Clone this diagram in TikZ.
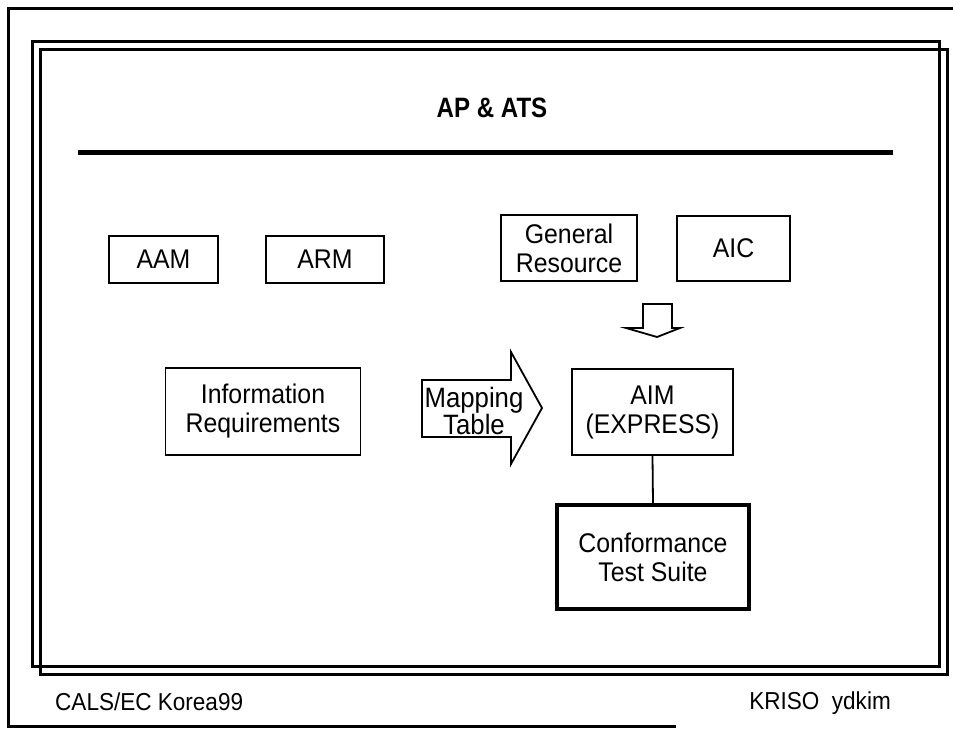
\documentclass[tikz,border=0pt]{standalone}
\usepackage{fontspec}
\setmainfont{Liberation Sans}[FakeStretch=0.92]
\newfontfamily\titlefont{Liberation Sans}[FakeStretch=0.86]
\begin{document}
\begin{tikzpicture}[x=1pt,y=-1pt,
  frameline/.style={line width=3pt},
  box/.style={draw, line width=1.8pt, inner sep=0pt, align=center,
              font=\fontsize{27}{29}\selectfont},
  thickbox/.style={box, line width=3.5pt},
  blockarrow/.style={draw, line width=1.8pt, line join=miter, fill=white},
  footer/.style={inner sep=0pt, font=\fontsize{24.5}{26}\selectfont}]

\useasboundingbox (0,0) rectangle (953,729);
\fill[white] (0,0) rectangle (953,729);

% page border (open on the right)
\draw[line width=2.5pt] (953,8.5) -- (8.5,8.5) -- (8.5,726.5) -- (676,726.5);

% double slide frame
\draw[frameline] (32,41) rectangle (939,666);
\draw[frameline] (40,49) rectangle (947,674);

% title and rule
\node[anchor=base, inner sep=0pt, font=\titlefont\fontsize{28}{30}\selectfont\bfseries] (title) at (492,117) {AP \& ATS};
\draw[line width=5pt] (78,152.5) -- (893,152.5);

% upper row of models
\node[box, minimum width=109pt, minimum height=47pt] (aam) at (163.5,259.5) {AAM};
\node[box, minimum width=118pt, minimum height=47pt] (arm) at (325,259.5) {ARM};
\node[box, minimum width=136pt, minimum height=66pt] (gr) at (569,248) {General\\Resource};
\node[box, minimum width=113pt, minimum height=65pt] (aic) at (733.5,248.5) {AIC};

% hollow down arrow under the resources
\draw[blockarrow] (643,304) -- (672,304) -- (672,328) -- (680,328) -- (657,337)
  -- (626,328) -- (643,328) -- cycle;

% middle row
\node[box, minimum width=195pt, minimum height=87pt] (ir) at (263,411.5) {Information\\Requirements};
\node[box, minimum width=161pt, minimum height=86pt] (aim) at (652.5,412) {AIM\\(EXPRESS)};

% mapping arrow with its label
\draw[blockarrow] (422,380) -- (511,380) -- (511,352) -- (542,408) -- (511,464)
  -- (511,437) -- (422,437) -- cycle;
\node[inner sep=0pt, align=center, font=\fontsize{28}{27}\selectfont] (map) at (474,411) {Mapping\\Table};

% conformance test suite
\node[thickbox, minimum width=192pt, minimum height=104pt] (cts) at (653,557) {Conformance\\Test Suite};
\draw[line width=1.8pt] (aim.south) -- (cts.north);

% footer
\node[footer, anchor=base west] (left) at (55,710) {CALS/EC Korea99};
\node[footer, anchor=base east] (right) at (891,709) {KRISO\ \ ydkim};
\end{tikzpicture}
\end{document}
